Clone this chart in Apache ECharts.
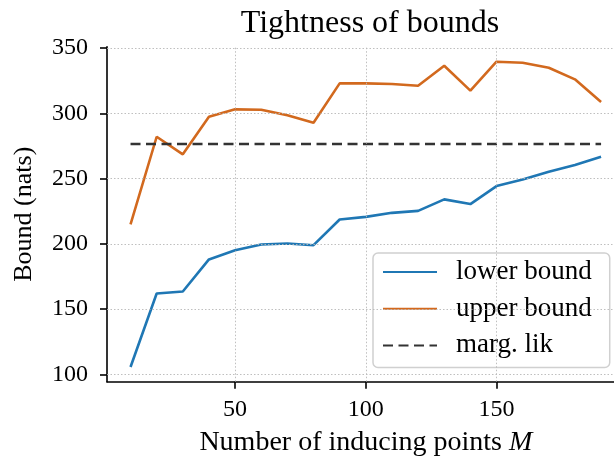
<!DOCTYPE html>
<html>
<head>
<meta charset="utf-8">
<script src="https://cdn.jsdelivr.net/npm/echarts@6/dist/echarts.min.js"></script>
<style>html,body{margin:0;padding:0;background:#fff}#c{width:614px;height:457px}</style>
</head>
<body>
<div id="c"></div>
<script>
const numInducing = [10,20,30,40,50,60,70,80,90,100,110,120,130,140,150,160,170,180,190];
const lowerBound = [105.6,161.9,163.4,188.0,195.1,199.4,200.2,198.9,218.6,220.6,223.7,225.2,234.0,230.4,244.2,249.3,255.2,260.3,266.6];
const upperBound = [214.8,282.0,268.5,297.3,303.0,302.7,298.5,292.7,322.9,322.9,322.4,321.1,336.4,317.3,339.5,338.7,334.9,326.0,308.6];
const margLik = 276.4;
const xTicks = [50,100,150];
const yTicks = [100,150,200,250,300,350];
const seriesNames = ['lower bound','upper bound','marg. lik'];

const FONT = '"Liberation Serif", "Times New Roman", serif';
const chart = echarts.init(document.getElementById('c'), null, {renderer:'canvas'});
const gridStyle = {color:'#b8b8b8', width:0.9, type:[1.5,2]};
chart.setOption({
  animation:false,
  backgroundColor:'#fff',
  title:{text:'Tightness of bounds', left:365, top:3, textAlign:'center',
    textStyle:{fontFamily:FONT, fontWeight:'normal', fontSize:32, color:'#000'}},
  grid:{left:107, top:46.7, bottom:75.3, right:-10.6, containLabel:false, outerBoundsMode:'none'},
  legend:{
    orient:'vertical', left:373, top:253,
    itemWidth:54, itemHeight:14, itemGap:6.7,
    padding:[4,18,7,9],
    backgroundColor:'rgba(255,255,255,0.85)',
    borderColor:'#d0d0d0', borderWidth:1.5, borderRadius:5,
    itemStyle:{opacity:0, borderWidth:0},
    textStyle:{fontFamily:FONT, fontSize:27, color:'#000', lineHeight:30, padding:[0,0,0,14]},
    data:seriesNames
  },
  xAxis:{
    type:'value', min:1, max:199,
    name:'Number of inducing points {i|M}', nameLocation:'middle', nameGap:47,
    nameTextStyle:{fontFamily:FONT, fontSize:28, color:'#000',
      rich:{i:{fontFamily:FONT, fontStyle:'italic', fontSize:28, color:'#000'}}},
    axisLine:{lineStyle:{color:'#000', width:1.6}},
    axisTick:{show:true, length:7, inside:false, customValues:xTicks, lineStyle:{color:'#000', width:1.6}},
    axisLabel:{customValues:xTicks, fontFamily:FONT, fontSize:24, color:'#000', margin:16},
    splitLine:{show:false}
  },
  yAxis:{
    type:'value', min:94.3, max:351,
    name:'Bound (nats)', nameLocation:'middle', nameGap:70, nameRotate:90,
    nameTextStyle:{fontFamily:FONT, fontSize:26, color:'#000'},
    axisLine:{show:true, lineStyle:{color:'#000', width:1.6}},
    axisTick:{show:true, length:7, inside:false, customValues:yTicks, lineStyle:{color:'#000', width:1.6}},
    axisLabel:{customValues:yTicks, fontFamily:FONT, fontSize:24, color:'#000', margin:19},
    splitLine:{show:false}
  },
  series:[
    {name:seriesNames[0], type:'line', symbol:'none', data:numInducing.map((x,i)=>[x,lowerBound[i]]),
      lineStyle:{color:'#1f77b4', width:2.6}, itemStyle:{color:'#1f77b4'}, z:3},
    {name:seriesNames[1], type:'line', symbol:'none', data:numInducing.map((x,i)=>[x,upperBound[i]]),
      lineStyle:{color:'#d2691e', width:2.6}, itemStyle:{color:'#d2691e'}, z:3},
    {name:seriesNames[2], type:'line', symbol:'none',
      data:[[numInducing[0],margLik],[numInducing[numInducing.length-1],margLik]],
      lineStyle:{color:'#333', width:2.6, type:[10,5.5]}, itemStyle:{color:'#333'}, z:3},
    {name:'grid', type:'line', data:[], silent:true, z:1,
      markLine:{silent:true, symbol:'none', label:{show:false}, lineStyle:gridStyle,
        data:[...xTicks.map(v=>({xAxis:v})), ...yTicks.map(v=>({yAxis:v}))]}}
  ]
});
</script>
</body>
</html>
